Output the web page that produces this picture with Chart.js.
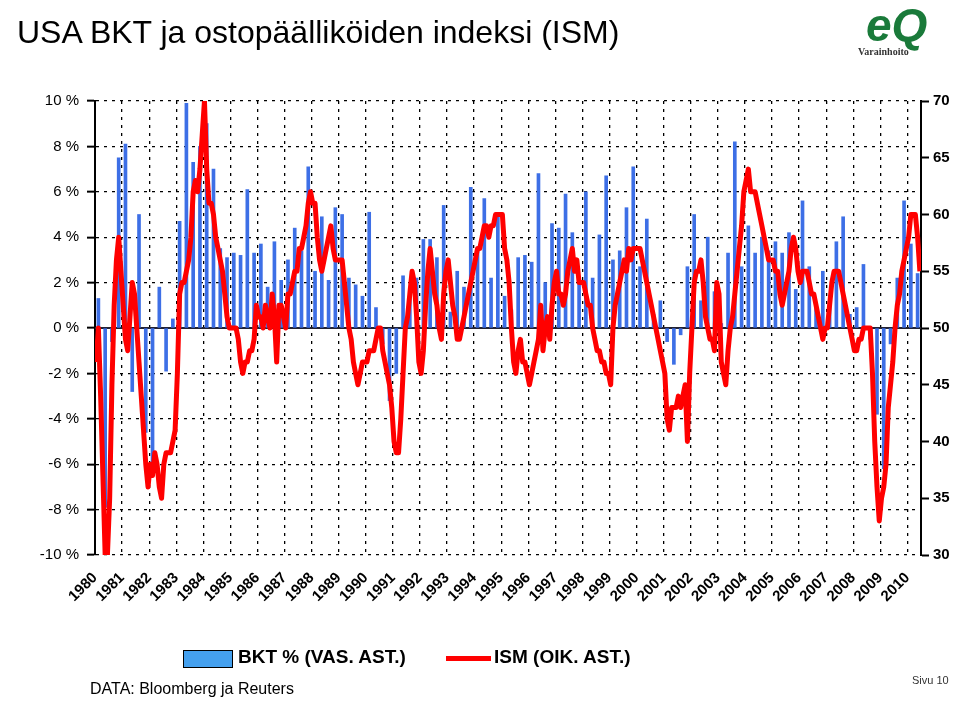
<!DOCTYPE html>
<html><head><meta charset="utf-8">
<script src="https://cdn.jsdelivr.net/npm/chart.js@4"></script>
<style>
body{margin:0;width:960px;height:701px;background:#fff;font-family:"Liberation Sans",Arial,sans-serif;position:relative;overflow:hidden}
#c{position:absolute;left:0;top:0}
.t{position:absolute;white-space:nowrap}
</style></head><body>
<canvas id="c" width="960" height="701"></canvas>
<div class="t" style="left:17px;top:14px;font-size:32px;color:#000">USA BKT ja ostopäälliköiden indeksi (ISM)</div>
<div class="t" style="left:866px;top:-2px;font-size:46px;font-weight:bold;font-style:italic;color:#1a7a3a">eQ</div>
<div class="t" style="left:858px;top:46px;font-size:10px;font-weight:bold;color:#333;font-family:'Liberation Serif',serif">Varainhoito</div>
<div class="t" style="left:183px;top:650px;width:48px;height:16px;background:#44a0ee;border:1px solid #000"></div>
<div class="t" style="left:238px;top:646px;font-size:19px;font-weight:bold">BKT % (VAS. AST.)</div>
<div class="t" style="left:446px;top:656px;width:45px;height:5px;background:#f00"></div>
<div class="t" style="left:494px;top:646px;font-size:19px;font-weight:bold">ISM (OIK. AST.)</div>
<div class="t" style="left:90px;top:680px;font-size:16px">DATA: Bloomberg ja Reuters</div>
<div class="t" style="left:912px;top:674px;font-size:11px;color:#333">Sivu 10</div>
<script>
const startYear = 1980;
const gdpQuarterly = [
 1.3,-7.9,-0.6,7.5, 8.1,-2.8,5.0,-4.6, -6.2,1.8,-1.9,0.4,
 4.7,9.9,7.3,8.0, 9.0,7.0,3.5,3.1, 3.3,3.2,6.1,3.3,
 3.7,1.8,3.8,2.1, 3.0,4.4,3.4,7.1, 2.5,4.9,2.1,5.3,
 5.0,2.2,1.9,1.4, 5.1,0.9,-0.7,-3.2, -2.0,2.3,1.6,2.2,
 3.9,3.9,3.1,5.4, 0.7,2.5,1.8,6.2, 3.5,5.7,2.2,5.0,
 1.4,0.8,3.1,3.2, 2.9,6.8,2.0,4.6, 4.4,5.9,4.2,2.2,
 6.0,2.2,4.1,6.7, 3.0,3.4,5.3,7.1, 2.7,4.8,0.6,1.2,
 -0.6,-1.6,-0.3,2.7, 5.0,1.2,4.0,1.6, 0.2,3.3,8.2,2.7,
 4.5,3.3,4.0,3.4, 3.8,3.3,4.2,1.7, 5.6,2.7,1.0,2.5,
 1.1,3.8,4.9,0.6, 0.9,2.8,-0.5,-3.8, -6.2,-0.7,2.2,5.6,
 3.7,2.4
];
const ismMonthly = [
 47,50,44,37,30,30,35,45,52,56,58,55,
 52,49,48,51,54,53,50,47,44,41,38,36,
 38,37,39,38,36,35,38,39,39,39,40,41,
 46,53,54,54,55,56,58,62,63,62,64,67,
 70,64,61,61,60,58,57,56,55,53,51,50,
 50,50,50,49,47,46,47,47,48,48,49,52,
 51,51,50,52,51,50,53,51,47,52,52,51,
 50,53,53,54,55,55,57,57,58,59,61,62,
 61,61,58,56,55,56,57,58,59,57,56,56,
 56,56,54,52,50,49,47,46,45,46,47,47,
 47,48,48,48,49,50,50,48,47,46,45,43,
 40,39,39,42,46,50,51,53,55,54,51,47,
 46,48,52,55,57,55,53,52,50,49,53,55,
 56,54,52,51,49,49,50,51,52,53,54,55,
 56,57,57,58,59,59,58,59,59,60,60,60,
 60,57,56,54,50,47,46,48,49,47,47,46,
 45,46,47,48,49,52,48,50,51,49,52,54,
 55,53,53,52,53,55,56,57,55,56,54,54,
 54,53,52,52,50,49,48,48,47,47,46,46,
 45,50,52,53,54,55,56,55,57,56,57,57,
 57,57,56,55,54,53,52,51,50,49,48,47,
 46,42,41,43,43,43,44,43,44,45,40,46,
 50,54,55,55,56,54,51,50,49,49,48,54,
 53,47,46,45,48,50,51,53,55,57,59,62,
 63,64,62,62,62,61,60,59,58,57,56,56,
 56,55,55,53,52,53,54,55,57,58,57,55,
 54,55,55,55,54,53,53,52,51,50,49,50,
 50,52,54,55,55,55,54,53,52,51,50,49,
 48,48,49,49,50,50,50,50,46,40,36,33,
 35,36,38,43,45,47,50,52,53,55,56,57,
 58,60,60,60,58,55
];
const leftTicks = [-10,-8,-6,-4,-2,0,2,4,6,8,10];
const rightTicks = [30,35,40,45,50,55,60,65,70];

const gdpPts = gdpQuarterly.map((v,i)=>({x:startYear+i/4+0.125,y:v}));
const ismPts = ismMonthly.map((v,i)=>({x:startYear+i/12+1/24,y:v}));

const zeroLine = {id:'zero',beforeDatasetsDraw(ch){
  const y=ch.scales.y.getPixelForValue(0),a=ch.chartArea,c=ch.ctx;
  c.save();c.strokeStyle='#223';c.lineWidth=2;c.beginPath();c.moveTo(a.left,y);c.lineTo(a.right,y);c.stroke();c.restore();
}};

new Chart(document.getElementById('c'),{
  type:'bar',
  data:{datasets:[
    {type:'line',data:ismPts,yAxisID:'y2',borderColor:'#ff0000',borderWidth:5,pointRadius:0,tension:0,borderJoinStyle:'round',order:0},
    {type:'bar',data:gdpPts,yAxisID:'y',backgroundColor:'#3d6fe6',barThickness:3,order:1}
  ]},
  options:{
    responsive:false,animation:false,
    plugins:{legend:{display:false},tooltip:{enabled:false}},
    layout:{padding:{left:0,right:0,top:101,bottom:0}},
    scales:{
      x:{type:'linear',min:1980,max:2010.5,offset:false,
        afterBuildTicks:s=>{s.ticks=[];for(let yv=1980;yv<=2010;yv++)s.ticks.push({value:yv});},
        afterFit:s=>{s.height=146;},
        ticks:{autoSkip:false,minRotation:45,maxRotation:45,color:'#000',font:{family:'Liberation Sans',size:15,weight:'bold'},padding:14,callback:v=>String(v)},
        grid:{color:'#000',lineWidth:1.3,drawTicks:false,offset:false},
        border:{display:false,dash:[3,5]}
      },
      y:{position:'left',min:-10,max:10,
        afterBuildTicks:s=>{s.ticks=leftTicks.map(v=>({value:v}));},
        afterFit:s=>{s.width=95;},
        ticks:{color:'#000',font:{family:'Liberation Sans',size:15},callback:v=>v+' %',padding:8},
        grid:{color:'#000',lineWidth:1.3,drawTicks:true,tickLength:8,tickColor:'#000',tickBorderDash:[],tickWidth:2},
        border:{display:true,color:'#000',width:2,dash:[3,5]}
      },
      y2:{position:'right',min:30,max:70,
        afterBuildTicks:s=>{s.ticks=rightTicks.map(v=>({value:v}));},
        afterFit:s=>{s.width=39;},
        ticks:{color:'#000',font:{family:'Liberation Sans',size:15,weight:'bold'},padding:4},
        grid:{drawOnChartArea:false,drawTicks:true,tickLength:8,color:'#000',tickWidth:2},
        border:{display:true,color:'#000',width:2}
      }
    }
  },
  plugins:[zeroLine]
});
</script>
</body></html>
